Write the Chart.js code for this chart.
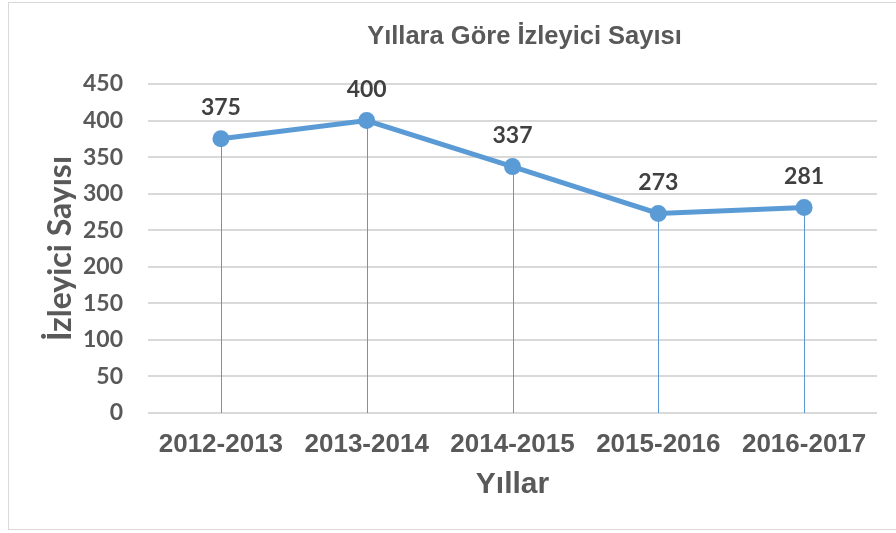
<!DOCTYPE html>
<html lang="tr">
<head>
<meta charset="utf-8">
<title>Yıllara Göre İzleyici Sayısı</title>
<script src="https://cdn.jsdelivr.net/npm/chart.js@4/dist/chart.umd.min.js"></script>
<style>
    html, body { margin: 0; padding: 0; background: #fff; }
    #wrap { position: relative; width: 896px; height: 533px; overflow: hidden; }
    #frame {
        position: absolute; left: 8px; top: 2px; width: 900px; height: 528px;
        border: 1px solid #d9d9d9; box-sizing: border-box; pointer-events: none;
    }
    canvas { position: absolute; left: 0; top: 0; }
</style>
</head>
<body>
<div id="wrap">
    <canvas id="chart-canvas" width="896" height="533"></canvas>
    <div id="frame"></div>
</div>
<script>
    const TITLE = "Yıllara Göre İzleyici Sayısı";
    const Y_TITLE = "İzleyici Sayısı";
    const X_TITLE = "Yıllar";
    const YEARS = ["2012-2013", "2013-2014", "2014-2015", "2015-2016", "2016-2017"];
    const VIEWERS = [375, 400, 337, 273, 281];

    const BLUE = "#5b9bd5";
    const GRAY = "#595959";
    const ARIAL = "'Liberation Sans', Arial, sans-serif";
    const CALIBRI = "Lato, 'Noto Sans', sans-serif";

    // thin line from every point down to the zero line
    const dropLines = {
        id: "dropLines",
        beforeDatasetsDraw(chart) {
            const ctx = chart.ctx;
            const y0 = chart.scales.y.getPixelForValue(0);
            ctx.save();
            ctx.strokeStyle = BLUE;
            ctx.lineWidth = 1;
            chart.getDatasetMeta(0).data.forEach(function (pt) {
                const x = Math.round(pt.x) + 0.5;
                ctx.beginPath();
                ctx.moveTo(x, pt.y);
                ctx.lineTo(x, y0);
                ctx.stroke();
            });
            ctx.restore();
        }
    };

    // value above each point
    const valueLabels = {
        id: "valueLabels",
        afterDatasetsDraw(chart) {
            const ctx = chart.ctx;
            const values = chart.data.datasets[0].data;
            ctx.save();
            ctx.font = "bold 23px " + CALIBRI;
            ctx.fillStyle = "#404040";
            ctx.textAlign = "center";
            ctx.textBaseline = "middle";
            chart.getDatasetMeta(0).data.forEach(function (pt, i) {
                ctx.fillText(String(values[i]), pt.x, pt.y - 31);
            });
            ctx.restore();
        }
    };

    // chart title, sits a little right of the plot centre
    const chartTitle = {
        id: "chartTitle",
        afterDraw(chart) {
            const ctx = chart.ctx;
            const area = chart.chartArea;
            ctx.save();
            ctx.font = "bold 25.5px " + ARIAL;
            ctx.fillStyle = GRAY;
            ctx.textAlign = "center";
            ctx.textBaseline = "middle";
            ctx.fillText(TITLE, (area.left + area.right) / 2 + 12, 37);
            ctx.restore();
        }
    };

    const context = document.getElementById("chart-canvas").getContext("2d");

    const chart = new Chart(context, {
        type: "line",
        data: {
            labels: YEARS,
            datasets: [{
                data: VIEWERS,
                borderColor: BLUE,
                backgroundColor: BLUE,
                borderWidth: 5,
                pointRadius: 6,
                pointBackgroundColor: BLUE,
                pointBorderColor: BLUE,
                tension: 0,
                fill: false
            }]
        },
        options: {
            responsive: false,
            animation: false,
            layout: {
                padding: {top: 84, right: 19, left: 0, bottom: 0}
            },
            plugins: {
                legend: {display: false},
                tooltip: {enabled: false},
                title: {display: false}
            },
            scales: {
                x: {
                    offset: true,
                    grid: {display: false, drawTicks: false},
                    border: {display: false},
                    ticks: {
                        color: GRAY,
                        padding: 16,
                        maxRotation: 0,
                        font: {family: ARIAL, weight: "bold", size: 26}
                    },
                    title: {
                        display: true,
                        text: X_TITLE,
                        color: GRAY,
                        font: {family: ARIAL, weight: "bold", size: 30},
                        padding: {top: 0, bottom: 30}
                    },
                    afterFit: function (scale) { scale.height = 120; }
                },
                y: {
                    min: 0,
                    max: 450,
                    ticks: {
                        stepSize: 50,
                        color: GRAY,
                        padding: 25,
                        font: {family: CALIBRI, weight: "bold", size: 23}
                    },
                    grid: {color: "#d9d9d9", lineWidth: 2, drawTicks: false},
                    border: {display: false},
                    title: {
                        display: true,
                        text: Y_TITLE,
                        color: GRAY,
                        font: {family: CALIBRI, weight: "bold", size: 32},
                        padding: {top: 41, bottom: 0}
                    },
                    afterFit: function (scale) { scale.width = 148; }
                }
            }
        },
        plugins: [dropLines, valueLabels, chartTitle]
    });
</script>
</body>
</html>
